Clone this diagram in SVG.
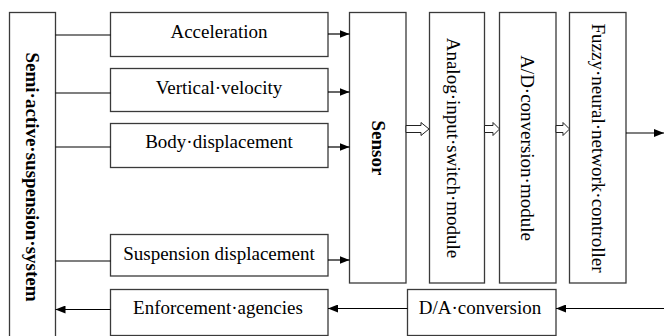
<svg xmlns="http://www.w3.org/2000/svg" width="664" height="336" viewBox="0 0 664 336">
<defs>
<marker id="ah" viewBox="0 0 10 8" refX="10" refY="4" markerWidth="10" markerHeight="8" markerUnits="userSpaceOnUse" orient="auto">
<path d="M0,0 L10,4 L0,8 Z" fill="#000"/>
</marker>
</defs>
<style>
.box{fill:#fff;stroke:#3a3a3a;stroke-width:1.3}
.t{font-family:"Liberation Serif","Times New Roman",serif;font-size:19px;fill:#000;text-anchor:middle}
.b{font-weight:bold}
.ln{stroke:#000;stroke-width:1.2;fill:none}
.ar{stroke:#000;stroke-width:1.2;fill:none;marker-end:url(#ah)}
.hol{fill:#fff;stroke:#222;stroke-width:1}
</style>
<rect width="664" height="336" fill="#fff"/>
<g id="semi-active-suspension-system">
<rect class="box" x="9.5" y="12.5" width="46" height="330"/>
<text class="t b" transform="translate(32,177) rotate(90)" y="6.5">Semi·active·suspension·system</text>
</g>
<g id="acceleration">
<rect class="box" x="110.5" y="12.5" width="217.5" height="44"/>
<text class="t" x="219" y="38">Acceleration</text>
</g>
<g id="vertical-velocity">
<rect class="box" x="110.5" y="68.5" width="217.5" height="43"/>
<text class="t" x="219" y="94">Vertical·velocity</text>
</g>
<g id="body-displacement">
<rect class="box" x="110.5" y="123.5" width="217.5" height="44"/>
<text class="t" x="219" y="148">Body·displacement</text>
</g>
<g id="suspension-displacement">
<rect class="box" x="110.5" y="234.5" width="217.5" height="41.5"/>
<text class="t" x="219" y="259.5">Suspension displacement</text>
</g>
<g id="enforcement-agencies">
<rect class="box" x="110.5" y="289.5" width="217.5" height="46"/>
<text class="t" x="218" y="314">Enforcement·agencies</text>
</g>
<g id="sensor">
<rect class="box" x="349.5" y="12.5" width="56.5" height="270.5"/>
<text class="t b" transform="translate(378,148) rotate(90)" y="6.5">Sensor</text>
</g>
<g id="analog-input-switch-module">
<rect class="box" x="429.5" y="12.5" width="55" height="270.5"/>
<text class="t" transform="translate(453,148) rotate(90)" y="6.5">Analog·input·switch·module</text>
</g>
<g id="ad-conversion-module">
<rect class="box" x="499.5" y="12.5" width="56.5" height="270.5"/>
<text class="t" transform="translate(527,148) rotate(90)" y="6.5">A/D·conversion·module</text>
</g>
<g id="fuzzy-neural-network-controller">
<rect class="box" x="569.5" y="12.5" width="56.5" height="270.5"/>
<text class="t" transform="translate(598,148) rotate(90)" y="6.5">Fuzzy·neural·network·controller</text>
</g>
<g id="da-conversion">
<rect class="box" x="407.5" y="289.5" width="148.5" height="46"/>
<text class="t" x="480" y="314">D/A·conversion</text>
</g>
<g id="connectors">
<line class="ln" x1="55.5" y1="35" x2="110.5" y2="35"/>
<line class="ln" x1="55.5" y1="93" x2="110.5" y2="93"/>
<line class="ln" x1="55.5" y1="147" x2="110.5" y2="147"/>
<line class="ln" x1="55.5" y1="261" x2="110.5" y2="261"/>
<line class="ar" x1="328" y1="34" x2="349.5" y2="34"/>
<line class="ar" x1="328" y1="92" x2="349.5" y2="92"/>
<line class="ar" x1="328" y1="147" x2="349.5" y2="147"/>
<line class="ar" x1="328" y1="260" x2="349.5" y2="260"/>
<polygon class="hol" points="406,125.5 421,125.5 421,122.5 429,129 421,135.5 421,132.5 406,132.5"/>
<polygon class="hol" points="484.5,125.5 493,125.5 493,122.5 499.5,129 493,135.5 493,132.5 484.5,132.5"/>
<polygon class="hol" points="556,125.5 563,125.5 563,122.5 569.5,129 563,135.5 563,132.5 556,132.5"/>
<line class="ar" x1="626" y1="133" x2="664" y2="133"/>
<line class="ar" x1="664" y1="308.5" x2="556" y2="308.5"/>
<line class="ar" x1="407.5" y1="308.5" x2="328" y2="308.5"/>
<line class="ar" x1="110.5" y1="309.5" x2="55.5" y2="309.5"/>
</g>
</svg>
